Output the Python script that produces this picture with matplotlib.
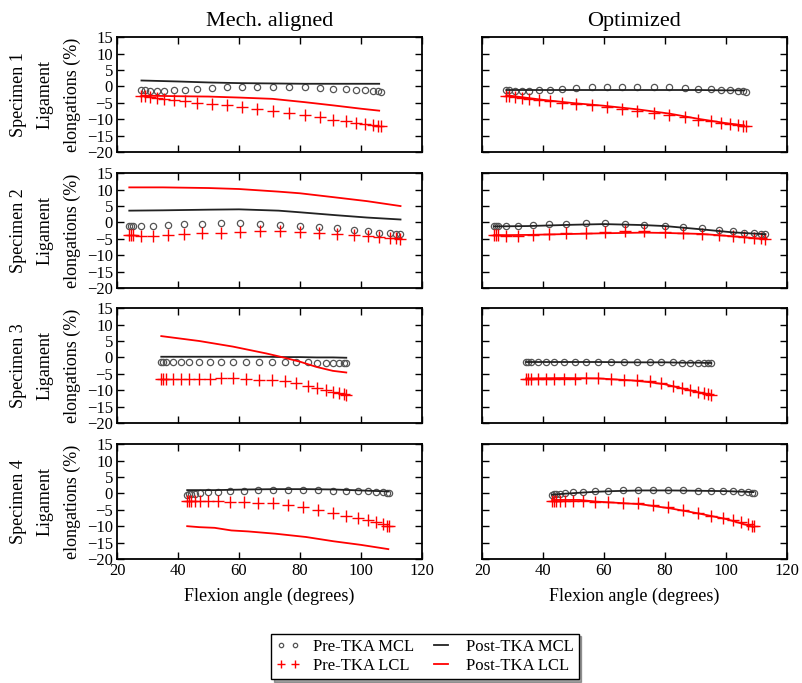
import matplotlib
matplotlib.use("Agg")
import matplotlib.pyplot as plt

plt.rcParams['font.family'] = ['Liberation Serif', 'DejaVu Serif']

# Specimen 1
angle_s1 = [28, 29, 30.7, 33, 35.4, 38.6, 42.2, 46.3, 51, 56, 61, 66, 71, 76.5, 81.5, 86.5, 91, 95, 98.5, 101.5, 104, 105.5, 106.5]
pre_mcl_s1 = [-1.2, -1.2, -1.3, -1.3, -1.3, -1.2, -1.0, -0.8, -0.5, -0.3, -0.2, -0.1, -0.1, -0.2, -0.2, -0.5, -0.8, -0.9, -1.1, -1.2, -1.4, -1.5, -1.6]
pre_lcl_s1 = [-2.9, -3.0, -3.3, -3.6, -3.9, -4.2, -4.6, -5.0, -5.4, -5.8, -6.3, -6.9, -7.5, -8.1, -8.8, -9.4, -10.1, -10.7, -11.2, -11.6, -11.9, -12.0, -12.1]
post_x_s1 = [28, 40, 50, 60, 71, 81.5, 91, 100, 106]
mech_mcl_s1 = [1.8, 1.5, 1.2, 1.0, 0.9, 0.8, 0.8, 0.8, 0.8]
mech_lcl_s1 = [-2.8, -3.0, -3.1, -3.4, -3.8, -4.8, -5.8, -6.8, -7.4]
opt_mcl_s1 = [-1.1, -1.1, -1.1, -1.1, -1.1, -1.1, -1.1, -1.2, -1.2]
opt_lcl_s1 = [-2.7, -4.1, -5.1, -5.9, -7.0, -8.3, -9.9, -11.2, -11.9]

# Specimen 2
angle_s2 = [24, 24.5, 25.2, 28, 31.8, 36.7, 42, 47.7, 54, 60.2, 66.8, 73.3, 79.9, 86.1, 92.2, 97.7, 102.3, 106.1, 109.4, 111.4, 112.7]
pre_mcl_s2 = [-1.0, -1.0, -1.0, -1.0, -1.0, -0.8, -0.6, -0.4, -0.3, -0.3, -0.4, -0.8, -1.1, -1.4, -1.8, -2.2, -2.7, -3.1, -3.3, -3.4, -3.5]
pre_lcl_s2 = [-3.7, -3.8, -3.9, -4.1, -4.1, -3.9, -3.6, -3.2, -3.1, -3.0, -2.7, -2.7, -2.9, -3.1, -3.4, -3.9, -4.2, -4.4, -4.6, -4.8, -4.9]
post_x_s2 = [24, 35, 50, 60, 73, 80, 92, 102, 113]
mech_mcl_s2 = [3.6, 3.7, 3.9, 4.0, 3.6, 3.1, 2.2, 1.5, 0.9]
mech_lcl_s2 = [10.7, 10.7, 10.5, 10.2, 9.4, 8.9, 7.6, 6.5, 5.0]
opt_mcl_s2 = [-1.2, -1.1, -0.7, -0.5, -0.8, -1.1, -2.1, -3.0, -3.6]
opt_lcl_s2 = [-3.9, -3.8, -3.5, -3.3, -3.1, -3.2, -3.5, -4.2, -5.1]

# Specimen 3
angle_s3 = [34.5, 35.1, 36.2, 38.4, 40.9, 43.6, 46.8, 50.4, 54.2, 58, 62.4, 66.6, 70.8, 75, 78.8, 82.6, 85.6, 88.4, 90.8, 92.8, 94.3, 95.2]
pre_mcl_s3 = [-1.4, -1.5, -1.5, -1.5, -1.5, -1.5, -1.5, -1.5, -1.5, -1.5, -1.5, -1.5, -1.5, -1.5, -1.5, -1.5, -1.6, -1.6, -1.6, -1.7, -1.7, -1.7]
pre_lcl_s3 = [-6.7, -6.7, -6.6, -6.5, -6.5, -6.5, -6.5, -6.5, -6.4, -6.3, -6.5, -6.8, -7.0, -7.3, -7.8, -8.7, -9.3, -10.0, -10.5, -11.0, -11.2, -11.5]
post_x_s3 = [34.5, 47, 58, 69, 74.5, 80, 85.4, 90.8, 95.2]
mech_mcl_s3 = [0.2, 0.2, 0.2, 0.2, 0.1, 0.1, 0.0, 0.0, -0.1]
mech_lcl_s3 = [6.5, 5.0, 3.3, 1.2, 0.0, -1.3, -2.9, -4.1, -4.6]
opt_mcl_s3 = [-1.4, -1.4, -1.4, -1.5, -1.5, -1.5, -1.6, -1.6, -1.7]
opt_lcl_s3 = [-6.4, -6.3, -6.4, -7.0, -7.5, -8.2, -9.4, -10.6, -11.4]

# Specimen 4
angle_s4 = [43, 43.5, 44.4, 45.5, 47.1, 49.8, 53.1, 57.2, 61.5, 66.2, 71.1, 76.1, 81, 85.9, 90.8, 95.2, 99, 102.3, 105, 107.2, 108.5, 109.1]
pre_mcl_s4 = [-0.5, -0.3, -0.2, -0.1, 0.1, 0.3, 0.4, 0.7, 0.8, 0.9, 0.9, 1.0, 0.9, 0.9, 0.8, 0.8, 0.7, 0.6, 0.4, 0.3, 0.2, 0.2]
pre_lcl_s4 = [-2.3, -2.3, -2.4, -2.3, -2.3, -2.4, -2.4, -2.5, -2.6, -2.9, -3.0, -3.6, -4.1, -5.1, -5.9, -6.9, -7.6, -8.1, -8.7, -9.2, -9.8, -10.0]
post_x_s4 = [43, 47, 52, 57.5, 63, 72, 82, 91, 100, 109]
mech_mcl_s4 = [1.0, 1.0, 1.0, 1.1, 1.2, 1.3, 1.3, 1.2, 0.9, 0.6]
mech_lcl_s4 = [-10.0, -10.3, -10.5, -11.3, -11.6, -12.3, -13.3, -14.6, -15.7, -17.0]
opt_mcl_s4 = [-0.4, -0.1, 0.2, 0.5, 0.7, 0.9, 0.9, 0.8, 0.7, 0.4]
opt_lcl_s4 = [-2.0, -2.0, -2.0, -2.5, -2.8, -3.3, -4.6, -6.1, -7.8, -10.2]

col_titles = ["Mech. aligned", "Optimized"]
x_ticks = [20, 40, 60, 80, 100, 120]
y_ticks = [-20, -15, -10, -5, 0, 5, 10, 15]

specimens = [
    (angle_s1, pre_mcl_s1, pre_lcl_s1, post_x_s1, [(mech_mcl_s1, mech_lcl_s1), (opt_mcl_s1, opt_lcl_s1)]),
    (angle_s2, pre_mcl_s2, pre_lcl_s2, post_x_s2, [(mech_mcl_s2, mech_lcl_s2), (opt_mcl_s2, opt_lcl_s2)]),
    (angle_s3, pre_mcl_s3, pre_lcl_s3, post_x_s3, [(mech_mcl_s3, mech_lcl_s3), (opt_mcl_s3, opt_lcl_s3)]),
    (angle_s4, pre_mcl_s4, pre_lcl_s4, post_x_s4, [(mech_mcl_s4, mech_lcl_s4), (opt_mcl_s4, opt_lcl_s4)]),
]

fig = plt.figure(figsize=(8.02, 6.83), dpi=100)

lefts = [0.146, 0.601]
bottoms = [0.7775, 0.5783, 0.3807, 0.1816]
w, h = 0.380, 0.168

handles = None
for row, (ang, pmcl, plcl, px, posts) in enumerate(specimens):
    for col in range(2):
        ax = fig.add_axes([lefts[col], bottoms[row], w, h])
        mcl_post, lcl_post = posts[col]
        h1, = ax.plot(ang, pmcl, 'o', mfc='none', mec='#555555', ms=4.5, mew=0.9, label='Pre-TKA MCL')
        h2, = ax.plot(ang, plcl, '+', color='red', ms=8, mew=1.0, label='Pre-TKA LCL')
        h3, = ax.plot(px, mcl_post, '-', color='#222222', lw=1.3, label='Post-TKA MCL')
        h4, = ax.plot(px, lcl_post, '-', color='red', lw=1.3, label='Post-TKA LCL')
        if handles is None:
            handles = [h1, h2, h3, h4]
        ax.set_xlim(20, 120)
        ax.set_ylim(-20, 15)
        ax.set_xticks(x_ticks)
        ax.set_yticks(y_ticks)
        ax.tick_params(direction='in', top=True, right=True, length=5, width=1, labelsize=12, pad=3)
        for s in ax.spines.values():
            s.set_linewidth(1.3)
        if row == 0:
            ax.set_title(col_titles[col], fontsize=16, pad=8)
        if row == 3:
            ax.set_xlabel("Flexion angle (degrees)", fontsize=13, labelpad=6)
        else:
            ax.tick_params(labelbottom=False)
        if col == 0:
            ax.set_ylabel("Specimen %d\nLigament\nelongations (%%)" % (row + 1), fontsize=13, linespacing=1.75)
        else:
            ax.tick_params(labelleft=False)

fig.legend(handles, [hh.get_label() for hh in handles], loc='center', bbox_to_anchor=(0.53, 0.039),
           ncol=2, numpoints=2, markerscale=0.7, shadow=True, fancybox=False, edgecolor='black', framealpha=1,
           fontsize=12, handlelength=1.4, handletextpad=0.8, columnspacing=0.9, borderpad=0.3, labelspacing=0.2)

plt.savefig("out.png", dpi=100)
